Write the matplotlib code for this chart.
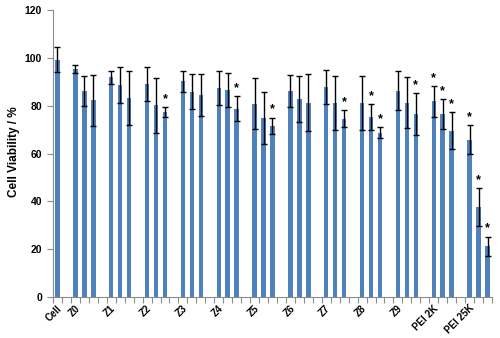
import numpy as np
import matplotlib
matplotlib.use("Agg")
import matplotlib.pyplot as plt

plt.rcParams['font.family'] = ['Liberation Sans', 'DejaVu Sans']

# groups of samples, Cell control has a single bar
groups = ['Cell', 'Z0', 'Z1', 'Z2', 'Z3', 'Z4', 'Z5', 'Z6', 'Z7', 'Z8', 'Z9', 'PEI 2K', 'PEI 25K']
viability = [
    [99.2],
    [95.3, 86.1, 82.2],
    [91.8, 88.7, 83.3],
    [89.0, 80.2, 77.4],
    [90.3, 85.9, 84.3],
    [87.4, 86.4, 78.8],
    [80.9, 74.9, 71.5],
    [86.1, 82.7, 81.3],
    [87.8, 81.2, 74.6],
    [81.2, 75.2, 68.7],
    [86.2, 81.2, 76.6],
    [81.8, 76.6, 69.6],
    [65.8, 37.6, 21.2],
]
errors = [
    [5.2],
    [1.5, 6.3, 10.8],
    [2.8, 7.6, 11.2],
    [7.1, 11.5, 2.0],
    [4.4, 7.4, 8.8],
    [7.3, 7.1, 5.1],
    [10.6, 10.8, 3.5],
    [6.6, 9.7, 11.8],
    [7.0, 11.2, 3.4],
    [11.4, 5.3, 2.2],
    [8.2, 10.7, 8.7],
    [6.4, 6.2, 7.7],
    [6.1, 8.0, 4.0],
]
significant = [
    [False],
    [False, False, False],
    [False, False, False],
    [False, False, True],
    [False, False, False],
    [False, False, True],
    [False, False, True],
    [False, False, False],
    [False, False, True],
    [False, True, True],
    [False, False, True],
    [True, True, True],
    [True, True, True],
]

# lay out category slots: one empty slot between groups
xs, ys, es, stars, label_pos = [], [], [], [], []
slot = 0
for i, g in enumerate(groups):
    if i > 0:
        slot += 1
    label_pos.append(slot)
    for v, e, s in zip(viability[i], errors[i], significant[i]):
        xs.append(slot)
        ys.append(v)
        es.append(e)
        stars.append(s)
        slot += 1
n_slots = slot

fig = plt.figure(figsize=(5.0, 3.38), dpi=100)
ax = fig.add_axes([53 / 500, 1 - 297 / 338, 439 / 500, 287 / 338])

ax.bar(xs, ys, width=0.5, color='#4F81BD', zorder=2)
ax.errorbar(xs, ys, yerr=es, fmt='none', ecolor='black', elinewidth=1,
            capsize=2.2, capthick=1, zorder=3)
for x, y, e, s in zip(xs, ys, es, stars):
    if s:
        ax.annotate('*', (x, y + e), xytext=(0, 1.5), textcoords='offset points',
                    ha='center', va='bottom', fontsize=9, fontweight='bold')

ax.set_xlim(-0.5, n_slots - 0.5)
ax.set_ylim(0, 120)
ax.set_yticks(np.arange(0, 121, 20))
ax.set_xticks(np.arange(-0.5, n_slots, 1))
ax.set_xticklabels([])
ax.tick_params(axis='x', length=4, color='#8c8c8c', width=0.8)
ax.tick_params(axis='y', length=4, color='#8c8c8c', width=0.8, labelsize=7.5, pad=4)
for lab in ax.get_yticklabels():
    lab.set_fontweight('bold')

for p, g in zip(label_pos, groups):
    ax.annotate(g, (p, 0), xytext=(2, -7), textcoords='offset points',
                rotation=45, rotation_mode='anchor', ha='right', va='center',
                fontsize=7, fontweight='bold')

for side in ['top', 'right']:
    ax.spines[side].set_visible(False)
for side in ['left', 'bottom']:
    ax.spines[side].set_color('#8c8c8c')
    ax.spines[side].set_linewidth(0.8)

fig.text(14 / 500, 1 - 152 / 338, 'Cell Viability / %', rotation=90,
         ha='center', va='center', fontsize=8.5, fontweight='bold')

fig.savefig('out.png', dpi=100)
